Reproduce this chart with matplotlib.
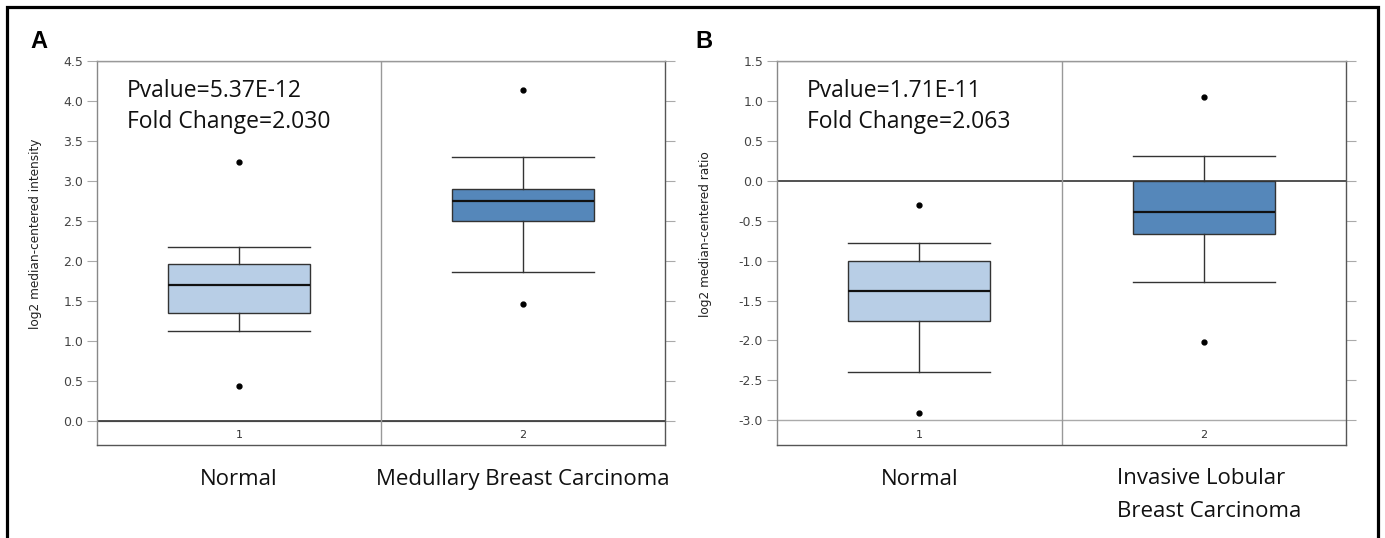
import matplotlib
matplotlib.use("Agg")
import matplotlib.pyplot as plt
from matplotlib.patches import Rectangle
import matplotlib.transforms as mtransforms

# ---------------- data ----------------
categories_a = ["Normal", "Medullary Breast Carcinoma"]
stats_a_normal = dict(whislo=1.12, q1=1.35, med=1.70, q3=1.955, whishi=2.175, fliers=[3.24, 0.43])
stats_a_tumor = dict(whislo=1.86, q1=2.50, med=2.75, q3=2.90, whishi=3.30, fliers=[4.14, 1.46])
yticks_a = [0.0, 0.5, 1.0, 1.5, 2.0, 2.5, 3.0, 3.5, 4.0, 4.5]
ylabel_a = "log2 median-centered intensity"
text_a = ["Pvalue=5.37E-12", "Fold Change=2.030"]

categories_b = ["Normal", ["Invasive Lobular", "Breast Carcinoma"]]
stats_b_normal = dict(whislo=-2.39, q1=-1.755, med=-1.38, q3=-1.01, whishi=-0.78, fliers=[-0.30, -2.915])
stats_b_tumor = dict(whislo=-1.27, q1=-0.67, med=-0.39, q3=0.0, whishi=0.31, fliers=[1.05, -2.02])
yticks_b = [-3.0, -2.5, -2.0, -1.5, -1.0, -0.5, 0.0, 0.5, 1.0, 1.5]
ylabel_b = "log2 median-centered ratio"
text_b = ["Pvalue=1.71E-11", "Fold Change=2.063"]

tick_numbers = ["1", "2"]
box_colors = ["#b8cee6", "#5587ba"]

W, H = 1385, 538
fig = plt.figure(figsize=(W / 100, H / 100), dpi=100)

label_font = "Open Sans"
AX_BOTTOM, AX_H = 445, 384


def frac(py):
    """pixel row -> axes fraction (for axes spanning rows 61..445)"""
    return (AX_BOTTOM - py) / AX_H


def panel(rect, stats, yticks, ylims, ylabel, ylabel_x, ptext, cats, letter, letter_xy,
          cat2_left=None):
    ax = fig.add_axes(rect)
    bp = ax.bxp([stats[0], stats[1]], positions=[1, 2], widths=0.5, capwidths=0.5,
                patch_artist=True, showfliers=True,
                boxprops=dict(edgecolor="#333333", linewidth=1.0),
                medianprops=dict(color="#111111", linewidth=1.6),
                whiskerprops=dict(color="#333333", linewidth=1.0),
                capprops=dict(color="#333333", linewidth=1.0),
                flierprops=dict(marker="o", markerfacecolor="black", markeredgecolor="black",
                                markersize=3.5, linestyle="none"))
    for patch, c in zip(bp["boxes"], box_colors):
        patch.set_facecolor(c)
    ax.set_xlim(0.5, 2.5)
    ax.set_ylim(*ylims)
    ax.set_yticks(yticks)
    ax.set_yticklabels([f"{v:.1f}" for v in yticks], fontsize=9, color="#444444",
                       family="DejaVu Sans")
    ax.set_xticks([])
    ax.tick_params(axis="y", which="both", direction="out", length=7, width=0.8,
                   color="#aaaaaa", right=True, labelright=False, pad=3)
    ax.spines["left"].set_color("#888888")
    for s in ["right", "bottom"]:
        ax.spines[s].set_color("#555555")
    ax.spines["top"].set_color("#999999")
    for s in ax.spines.values():
        s.set_linewidth(1.0)
    ax.axhline(min(yticks), color="#aaaaaa", lw=1.0, zorder=1)
    ax.axhline(max(yticks), color="#999999", lw=1.0, zorder=1)
    ax.axhline(0.0, color="#333333", lw=1.2, zorder=1)
    ax.axvline(1.5, color="#999999", lw=1.0, zorder=1)
    ax.set_ylabel(ylabel, fontsize=8.7, color="#222222", family="DejaVu Sans")
    ax.yaxis.set_label_coords(ylabel_x, 0.55)
    trans = mtransforms.blended_transform_factory(ax.transData, ax.transAxes)
    for i, t in enumerate(tick_numbers):
        ax.text(i + 1, 0.026, t, transform=trans, ha="center", va="center",
                fontsize=8, color="#333333", family="DejaVu Sans")
    # annotation
    for line, py in zip(ptext, [97, 128]):
        ax.text(0.053, frac(py), line, transform=ax.transAxes,
                ha="left", va="baseline", fontsize=16.5, family=label_font, color="#111111")
    # category labels
    ax.text(1, frac(485), cats[0], transform=trans, ha="center", va="baseline",
            fontsize=16, family=label_font, color="#111111")
    if cat2_left is None:
        ax.text(2, frac(485), cats[1], transform=trans, ha="center", va="baseline",
                fontsize=16, family=label_font, color="#111111")
    else:
        for line, py in zip(cats[1], [484, 517]):
            ax.text(cat2_left, frac(py), line, transform=trans, ha="left", va="baseline",
                    fontsize=16, family=label_font, color="#111111")
    fig.text(letter_xy[0], letter_xy[1], letter, fontsize=17, fontweight="bold",
             family="Liberation Sans", ha="left", va="baseline")
    return ax


ax_a = panel([97 / W, 1 - 445 / H, 568 / W, 384 / H],
             [stats_a_normal, stats_a_tumor], yticks_a, (-0.304, 4.5), ylabel_a, -0.097,
             text_a, categories_a, "A", (30 / W, 1 - 48 / H))
ax_b = panel([777 / W, 1 - 445 / H, 569 / W, 384 / H],
             [stats_b_normal, stats_b_tumor], yticks_b, (-3.31, 1.5), ylabel_b, -0.114,
             text_b, categories_b, "B", (695 / W, 1 - 48 / H), cat2_left=1.695)

# figure frame
fig.patches.append(Rectangle((7 / W, -0.05), (1378 - 7) / W, 1 - 7 / H + 0.05,
                             transform=fig.transFigure, fill=False, edgecolor="black",
                             linewidth=2.3, zorder=10))

fig.savefig("out.png", dpi=100)
